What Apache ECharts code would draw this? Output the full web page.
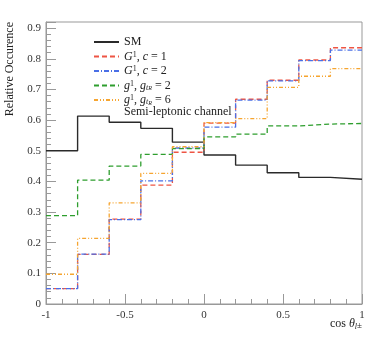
<!DOCTYPE html>
<html>
<head>
<meta charset="utf-8">
<script src="https://cdn.jsdelivr.net/npm/echarts@6/dist/echarts.min.js"></script>
<style>
  html, body { margin: 0; padding: 0; background: #fff; }
  #chart { width: 374px; height: 337px; }
</style>
</head>
<body>
<div id="chart"></div>
<script>
// bin edges of cos(theta_l)
const binEdges = [-1, -0.8, -0.6, -0.4, -0.2, 0, 0.2, 0.4, 0.6, 0.8, 1];

// relative occurence per bin
const smValues   = [0.500, 0.613, 0.593, 0.573, 0.528, 0.486, 0.453, 0.428, 0.413, 0.407];
const g1c1Values = [0.050, 0.162, 0.277, 0.388, 0.495, 0.590, 0.668, 0.730, 0.796, 0.836];
const g1c2Values = [0.050, 0.163, 0.275, 0.402, 0.509, 0.577, 0.665, 0.728, 0.794, 0.828];
const gtr2Values = [0.288, 0.404, 0.450, 0.488, 0.507, 0.545, 0.554, 0.581, 0.587, 0.589];
const gtr6Values = [0.097, 0.214, 0.330, 0.426, 0.513, 0.592, 0.605, 0.707, 0.743, 0.768];

const xTickLabels = ['-1', '-0.5', '0', '0.5', '1'];

const serif = '"Liberation Serif", "DejaVu Serif", serif';

// histogram as step line: left edge of each bin, plus closing point at the last edge
function toSteps(values) {
    let pts = values.map(function (v, i) { return [binEdges[i], v]; });
    pts.push([binEdges[binEdges.length - 1], values[values.length - 1]]);
    return pts;
}

function histSeries(name, values, color, dash, width) {
    return {
        name: name,
        type: 'line',
        step: 'end',
        symbol: 'none',
        data: toSteps(values),
        lineStyle: { color: color, width: width, type: dash },
        itemStyle: { color: color },
        emphasis: { disabled: true },
        animation: false
    };
}

const rich = {
    n: { fontFamily: serif, fontSize: 12, color: '#222', lineHeight: 12 },
    i: { fontFamily: serif, fontSize: 12, fontStyle: 'italic', color: '#222', lineHeight: 12 },
    sup: { fontFamily: serif, fontSize: 8, color: '#222', lineHeight: 12, verticalAlign: 'top' },
    sub: { fontFamily: serif, fontSize: 8, fontStyle: 'italic', color: '#222', lineHeight: 12, verticalAlign: 'bottom' },
    subsub: { fontFamily: serif, fontSize: 6, fontStyle: 'italic', color: '#222', lineHeight: 12, verticalAlign: 'bottom' }
};

const legendLabels = {
    'SM': '{n|SM}',
    'G1c1': '{i|G}{sup|1}{n|, }{i|c}{n| = 1}',
    'G1c2': '{i|G}{sup|1}{n|, }{i|c}{n| = 2}',
    'g1t2': '{i|g}{sup|1}{n|, }{i|g}{sub|t}{subsub|R}{n| = 2}',
    'g1t6': '{i|g}{sup|1}{n|, }{i|g}{sub|t}{subsub|R}{n| = 6}'
};

const chart = echarts.init(document.getElementById('chart'), null, { renderer: 'canvas' });

chart.setOption({
    backgroundColor: '#fff',
    animation: false,
    grid: {
        left: 46, right: 12, top: 22, bottom: 33,
        show: true, borderColor: '#999', borderWidth: 1
    },
    xAxis: {
        type: 'value',
        min: -1, max: 1, interval: 0.5,
        axisLine: { onZero: false, lineStyle: { color: '#999' } },
        axisTick: { inside: true, length: 10, lineStyle: { color: '#999' } },
        minorTick: { show: true, splitNumber: 5, length: 5, lineStyle: { color: '#999' } },
        splitLine: { show: false },
        axisLabel: {
            color: '#333', fontFamily: serif, fontSize: 11, margin: 6,
            formatter: function (v) {
                let i = Math.round((v + 1) / 0.5);
                return xTickLabels[i];
            }
        }
    },
    yAxis: {
        type: 'value',
        min: 0, max: 0.92, interval: 0.1,
        axisLine: { show: true, onZero: false, lineStyle: { color: '#999' } },
        axisTick: { show: true, inside: true, length: 10, lineStyle: { color: '#999' } },
        minorTick: { show: true, splitNumber: 5, length: 5, lineStyle: { color: '#999' } },
        splitLine: { show: false },
        axisLabel: {
            color: '#333', fontFamily: serif, fontSize: 11, margin: 5, showMaxLabel: false,
            formatter: function (v) { return v === 0 ? '0' : v.toFixed(1); }
        }
    },
    legend: {
        show: true,
        orient: 'vertical',
        left: 93, top: 36,
        itemWidth: 25, itemHeight: 10, itemGap: 2.5,
        padding: 0,
        data: ['SM', 'G1c1', 'G1c2', 'g1t2', 'g1t6'],
        selectedMode: false,
        itemStyle: { opacity: 0 },
        formatter: function (name) { return legendLabels[name]; },
        textStyle: { rich: rich, lineHeight: 12 }
    },
    graphic: [
        {
            type: 'text', left: 124, top: 106,
            style: { text: 'Semi-leptonic channel', fontFamily: serif, fontSize: 12, fill: '#222' }
        },
        {
            type: 'text', x: 10, y: 22, rotation: Math.PI / 2,
            style: {
                text: 'Relative Occurence', fontFamily: serif, fontSize: 12, fill: '#222',
                align: 'right', verticalAlign: 'middle'
            }
        },
        {
            type: 'text', right: 12, top: 318,
            style: {
                text: '{n|cos }{i|θ}{sub|l}{n2|±}',
                rich: {
                    n: { fontFamily: serif, fontSize: 12, fill: '#222' },
                    i: { fontFamily: serif, fontSize: 12, fontStyle: 'italic', fill: '#222' },
                    sub: { fontFamily: serif, fontSize: 8, fontStyle: 'italic', fill: '#222', padding: [6, 0, 0, 0] },
                    n2: { fontFamily: serif, fontSize: 9, fill: '#222', padding: [4, 0, 0, 0] }
                }
            }
        }
    ],
    series: [
        histSeries('SM', smValues, '#2a2a2a', 'solid', 1.4),
        histSeries('G1c1', g1c1Values, '#ee5544', [5, 3], 1.3),
        histSeries('G1c2', g1c2Values, '#4a6fe6', [5, 2, 1, 2], 1.3),
        histSeries('g1t2', gtr2Values, '#2e9e2e', [5, 3], 1.3),
        histSeries('g1t6', gtr6Values, '#f6a530', [4, 2, 1, 2, 1, 2], 1.3)
    ]
});
</script>
</body>
</html>
